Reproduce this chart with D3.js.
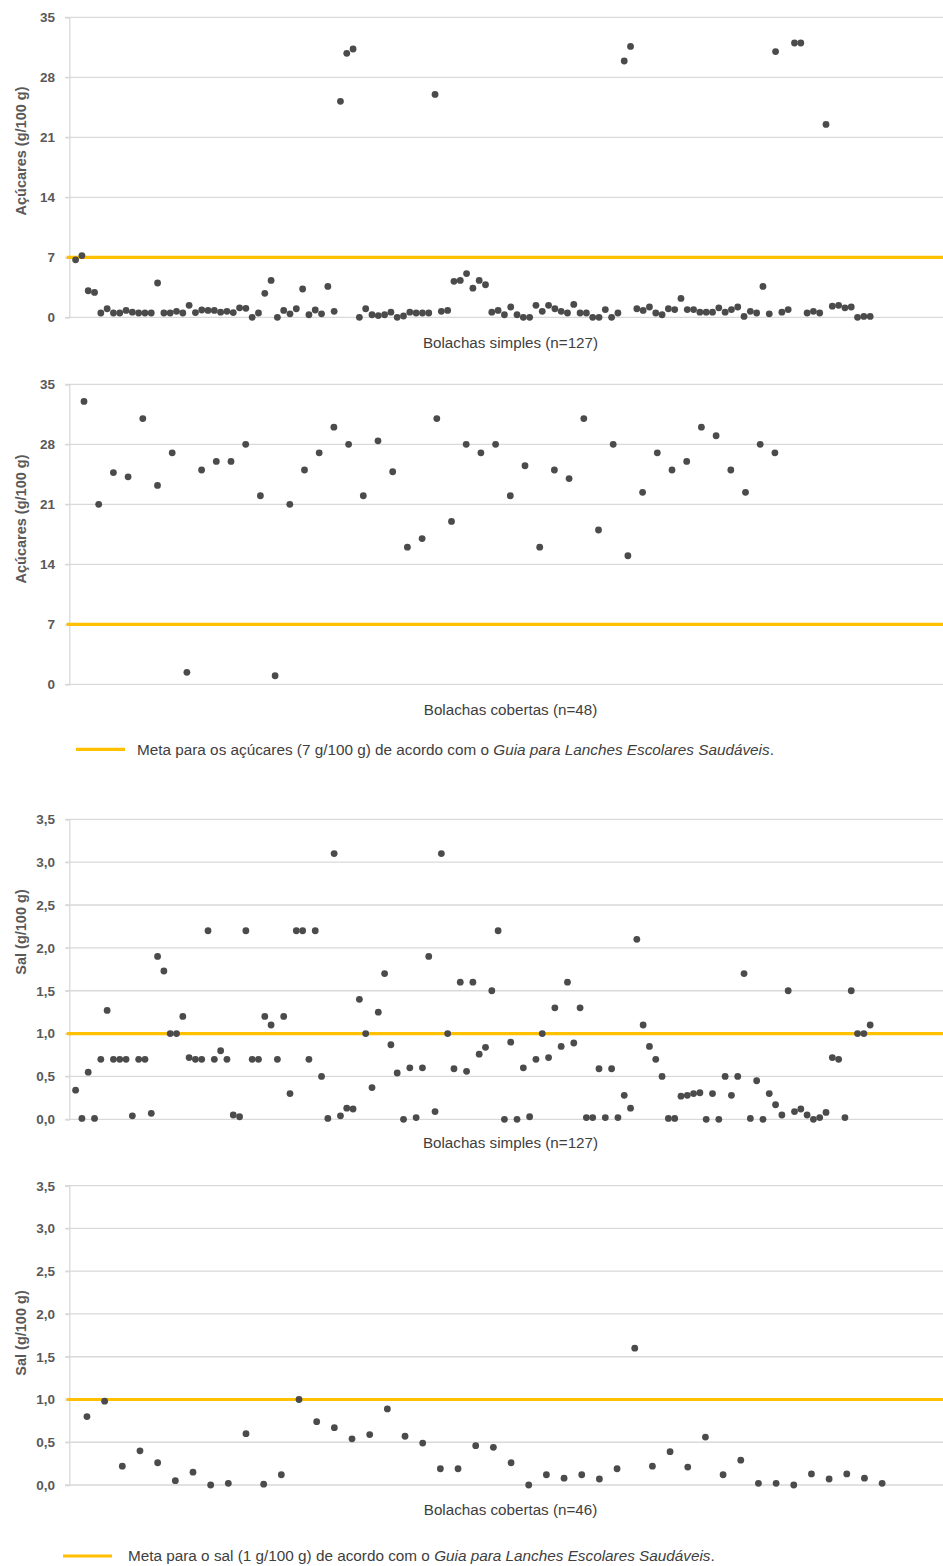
<!DOCTYPE html>
<html>
<head>
<meta charset="utf-8">
<script src="https://cdn.jsdelivr.net/npm/d3@7/dist/d3.min.js"></script>
<style>
  html, body { margin: 0; padding: 0; background: #ffffff; }
  svg { display: block; font-family: "Liberation Sans", Arial, Helvetica, sans-serif; }
</style>
</head>
<body>
<svg id="chart" width="943" height="1566"></svg>
<script>
// ---------------- DATA ----------------
const sugarSimples = [
  6.7,7.2,3.1,2.9,0.5,1.0,0.5,0.5,0.8,0.6,
  0.5,0.5,0.5,4.0,0.5,0.5,0.7,0.5,1.4,0.55,
  0.85,0.8,0.8,0.6,0.7,0.55,1.1,1.05,0,0.5,
  2.8,4.3,0,0.8,0.4,1.0,3.3,0.3,0.85,0.4,
  3.6,0.7,25.2,30.8,31.3,0,1.0,0.3,0.2,0.3,
  0.6,0,0.15,0.6,0.5,0.5,0.5,26.0,0.7,0.8,
  4.2,4.3,5.1,3.4,4.3,3.8,0.6,0.8,0.3,1.2,
  0.3,0,0,1.4,0.7,1.4,1.0,0.7,0.5,1.5,
  0.5,0.5,0,0,0.9,0,0.5,29.9,31.6,1.0,
  0.8,1.2,0.5,0.3,1.0,0.9,2.2,0.9,0.9,0.6,
  0.6,0.6,1.1,0.6,0.9,1.2,0.1,0.7,0.5,3.6,
  0.4,31.0,0.6,0.9,32.0,32.0,0.5,0.7,0.5,22.5,
  1.3,1.4,1.1,1.2,0,0.1,0.1
];
const sugarCobertas = [
  33.0,21.0,24.7,24.2,31.0,23.2,27.0,1.4,25.0,26.0,
  26.0,28.0,22.0,1.0,21.0,25.0,27.0,30.0,28.0,22.0,
  28.4,24.8,16.0,17.0,31.0,19.0,28.0,27.0,28.0,22.0,
  25.5,16.0,25.0,24.0,31.0,18.0,28.0,15.0,22.4,27.0,
  25.0,26.0,30.0,29.0,25.0,22.4,28.0,27.0
];
const saltSimples = [
  0.34,0.01,0.55,0.01,0.70,1.27,0.70,0.70,0.70,0.04,
  0.70,0.70,0.07,1.90,1.73,1.00,1.00,1.20,0.72,0.70,
  0.70,2.20,0.70,0.80,0.70,0.05,0.03,2.20,0.70,0.70,
  1.20,1.10,0.70,1.20,0.30,2.20,2.20,0.70,2.20,0.50,
  0.01,3.10,0.04,0.13,0.12,1.40,1.00,0.37,1.25,1.70,
  0.87,0.54,0.00,0.60,0.02,0.60,1.90,0.09,3.10,1.00,
  0.59,1.60,0.56,1.60,0.76,0.84,1.50,2.20,0.00,0.90,
  0.00,0.60,0.03,0.70,1.00,0.72,1.30,0.85,1.60,0.89,
  1.30,0.02,0.02,0.59,0.02,0.59,0.02,0.28,0.13,2.10,
  1.10,0.85,0.70,0.50,0.01,0.01,0.27,0.28,0.30,0.31,
  0.00,0.30,0.00,0.50,0.28,0.50,1.70,0.01,0.45,0.00,
  0.30,0.17,0.05,1.50,0.09,0.12,0.05,0.00,0.02,0.08,
  0.72,0.70,0.02,1.50,1.00,1.00,1.10
];
const saltCobertas = [
  0.80,0.98,0.22,0.40,0.26,0.05,0.15,0.00,0.02,0.60,
  0.01,0.12,1.00,0.74,0.67,0.54,0.59,0.89,0.57,0.49,
  0.19,0.19,0.46,0.44,0.26,0.00,0.12,0.08,0.12,0.07,
  0.19,1.60,0.22,0.39,0.21,0.56,0.12,0.29,0.02,0.02,
  0.00,0.13,0.07,0.13,0.08,0.02
];

const sugarTicks = [0, 7, 14, 21, 28, 35];
const sugarTickLabels = ["0", "7", "14", "21", "28", "35"];
const saltTicks = [0, 0.5, 1, 1.5, 2, 2.5, 3, 3.5];
const saltTickLabels = ["0,0", "0,5", "1,0", "1,5", "2,0", "2,5", "3,0", "3,5"];

const sugarTarget = 7;
const saltTarget = 1;

const sugarTitle = "Açúcares (g/100 g)";
const saltTitle = "Sal (g/100 g)";
const categoryLabels = ["Bolachas simples (n=127)", "Bolachas cobertas (n=48)", "Bolachas simples (n=127)", "Bolachas cobertas (n=46)"];
const legendSugar = ["Meta para os açúcares (7 g/100 g) de acordo com o ", "Guia para Lanches Escolares Saudáveis", "."];
const legendSalt = ["Meta para o sal (1 g/100 g) de acordo com o ", "Guia para Lanches Escolares Saudáveis", "."];

// ---------------- LAYOUT ----------------
const W = 943;
const axisX = 69.3;
const COL_DOT = "#4b4b4b";
const COL_GOLD = "#FFC000";
const COL_GRID = "#d9d9d9";
const COL_TICK = "#595959";
const COL_TEXT = "#404040";

const svg = d3.select("#chart");
svg.append("rect").attr("width", 943).attr("height", 1566).attr("fill", "#fff");

const panels = [
  { data: sugarSimples, xMax: 140, step: 6.306, top: 17.3, bottom: 317.3, yMax: 35,
    ticks: sugarTicks, labels: sugarTickLabels, target: sugarTarget, title: sugarTitle,
    titleY: 151, cat: categoryLabels[0], catY: 348 },
  { data: sugarCobertas, xMax: 60, step: 14.7, top: 384.3, bottom: 684.3, yMax: 35,
    ticks: sugarTicks, labels: sugarTickLabels, target: sugarTarget, title: sugarTitle,
    titleY: 519, cat: categoryLabels[1], catY: 715 },
  { data: saltSimples, xMax: 140, step: 6.306, top: 819.3, bottom: 1119.3, yMax: 3.5,
    ticks: saltTicks, labels: saltTickLabels, target: saltTarget, title: saltTitle,
    titleY: 932, cat: categoryLabels[2], catY: 1148 },
  { data: saltCobertas, xMax: 50, step: 17.67, top: 1185.7, bottom: 1485, yMax: 3.5,
    ticks: saltTicks, labels: saltTickLabels, target: saltTarget, title: saltTitle,
    titleY: 1333, cat: categoryLabels[3], catY: 1515 }
];

panels.forEach(p => {
  const x = d3.scaleLinear().domain([0, p.xMax]).range([axisX, axisX + p.xMax * p.step]);
  const y = d3.scaleLinear().domain([0, p.yMax]).range([p.bottom, p.top]);
  const g = svg.append("g");

  // gridlines
  g.append("g").selectAll("line").data(p.ticks).join("line")
    .attr("x1", axisX - 4).attr("x2", W)
    .attr("y1", d => y(d)).attr("y2", d => y(d))
    .attr("stroke", COL_GRID).attr("stroke-width", 1.3);

  // y axis
  const ax = d3.axisLeft(y).tickValues(p.ticks)
    .tickFormat((d, i) => p.labels[i]).tickSize(4).tickPadding(10.3);
  const axg = g.append("g").attr("transform", `translate(${axisX},0)`).call(ax);
  axg.select(".domain").attr("stroke", COL_GRID).attr("stroke-width", 1.3);
  axg.selectAll(".tick line").attr("stroke", COL_GRID).attr("stroke-width", 1.3);
  axg.selectAll(".tick text")
    .attr("fill", COL_TICK).attr("font-size", 13.5).attr("font-weight", "bold")
    .attr("font-family", "'Liberation Sans', Arial, sans-serif");

  // target line
  g.append("line")
    .attr("x1", axisX - 2.6).attr("x2", W)
    .attr("y1", y(p.target)).attr("y2", y(p.target))
    .attr("stroke", COL_GOLD).attr("stroke-width", 3.2);

  // points
  g.append("g").selectAll("circle").data(p.data).join("circle")
    .attr("cx", (d, i) => x(i + 1))
    .attr("cy", d => y(d))
    .attr("r", 3.4)
    .attr("fill", COL_DOT);

  // y title
  g.append("text")
    .attr("transform", `translate(26,${p.titleY}) rotate(-90)`)
    .attr("text-anchor", "middle")
    .attr("font-size", 14.5)
    .attr("font-weight", "bold")
    .attr("fill", COL_TICK)
    .text(p.title);

  // category label
  g.append("text")
    .attr("x", 510.5).attr("y", p.catY)
    .attr("text-anchor", "middle")
    .attr("font-size", 15.2)
    .attr("fill", COL_TEXT)
    .text(p.cat);
});

// legends
function legend(x1, x2, yLine, textX, parts) {
  svg.append("line").attr("x1", x1).attr("x2", x2).attr("y1", yLine).attr("y2", yLine)
    .attr("stroke", COL_GOLD).attr("stroke-width", 3.2);
  const t = svg.append("text").attr("x", textX).attr("y", yLine + 5.2)
    .attr("font-size", 15.3).attr("fill", COL_TEXT);
  t.append("tspan").text(parts[0]);
  t.append("tspan").attr("font-style", "italic").text(parts[1]);
  t.append("tspan").text(parts[2]);
}
legend(76, 125, 749.3, 137, legendSugar);
legend(63, 112, 1556, 128, legendSalt);
</script>
</body>
</html>
